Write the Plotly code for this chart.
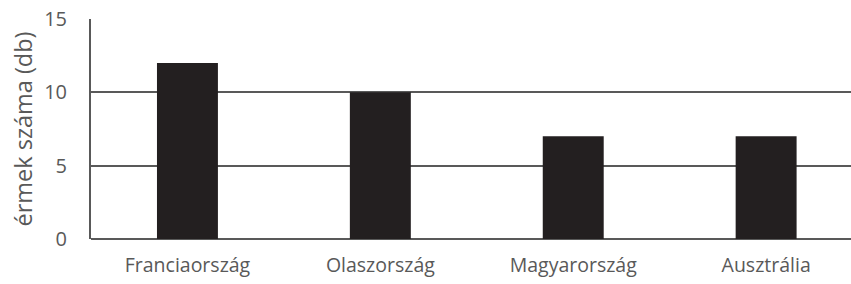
import plotly.graph_objects as go

categories = ["Franciaország", "Olaszország", "Magyarország", "Ausztrália"]
values = [12, 10, 7, 7]
y_ticks = [0, 5, 10, 15]
y_title = "érmek száma (db)"

font_family = "Open Sans"
text_color = "#595959"
grid_color = "#595959"

fig = go.Figure(go.Bar(x=categories, y=values, marker=dict(color="#231f20", line=dict(width=0))))

fig.update_layout(
    width=851, height=284,
    margin=dict(l=91, r=0, t=19, b=45),
    paper_bgcolor="white", plot_bgcolor="white",
    bargap=0.684,
    showlegend=False,
    font=dict(family=font_family, size=16, color=text_color),
)
fig.update_xaxes(
    type="category", range=[-0.5, 3.44],
    showgrid=False, showline=False, zeroline=False,
    ticks="", ticklabelstandoff=12,
    tickfont=dict(size=19.5, color=text_color),
)
fig.update_yaxes(
    range=[0, 15], tickvals=y_ticks,
    showgrid=True, gridcolor=grid_color, gridwidth=2,
    showline=True, linecolor=grid_color, linewidth=2,
    zeroline=True, zerolinecolor=grid_color, zerolinewidth=2,
    ticks="", ticklabelstandoff=18,
    tickfont=dict(size=20, color=text_color),
    title=dict(text=y_title, font=dict(size=23.5, color=text_color), standoff=5),
)

fig.write_html("out.html", config={"displayModeBar": False},
               post_script="document.body.style.margin='0';")
